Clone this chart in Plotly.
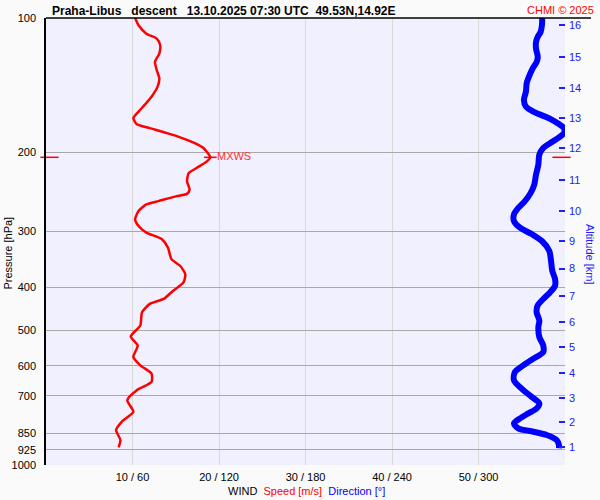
import plotly.graph_objects as go

# ---------------- data ----------------
# wind speed profile (pressure hPa, speed m/s)
p_speed = [100, 103.8, 108.4, 111.2, 115.0, 120.1, 125.3, 130.7, 136.5, 142.4, 150.0,
           156.5, 162.0, 167.6, 172.9, 176.4, 181.0, 185.0, 189.9, 195.4, 205.0, 209.3,
           216.6, 222.3, 232.0, 242.0, 247.5, 250.4, 256.9, 261.3, 270.4, 282.2, 292.0,
           302.2, 312.6, 326.4, 346.4, 358.5, 374.1, 390.6, 407.6, 425.3, 436.3, 455.5,
           487.7, 516.0, 540.4, 573.8, 598.8, 624.9, 652.4, 680.8, 716.6, 760.9, 801.0,
           835.8, 879.7, 913.3]
speed = [10.3, 10.7, 11.6, 12.8, 13.2, 13.1, 12.6, 12.8, 13.1, 12.9, 12.2,
         11.4, 10.7, 10.1, 10.5, 12.0, 14.0, 15.5, 17.0, 18.2, 19.0, 18.6,
         17.4, 16.5, 16.3, 16.6, 16.3, 15.1, 13.0, 11.6, 10.7, 10.3, 10.7,
         11.6, 13.4, 14.1, 14.5, 15.5, 16.1, 15.9, 14.7, 13.6, 12.0, 11.1,
         10.9, 9.8, 10.6, 10.1, 10.9, 12.2, 12.2, 10.5, 9.4, 10.1, 8.75,
         8.1, 8.6, 8.4]

# wind direction profile (pressure hPa, direction deg)
p_dir = [100, 103.8, 107.4, 110.2, 113.1, 117.1, 122.2, 125.3, 129.7, 135.3, 140.0,
         146.2, 152.5, 157.8, 162.0, 166.2, 170.5, 176.4, 181.0, 185.7, 190.6, 195.4,
         202.2, 212.9, 224.1, 235.9, 246.2, 256.9, 266.0, 275.0, 284.7, 294.6, 304.8,
         315.5, 332.0, 349.5, 367.9, 383.9, 397.2, 411.2, 425.3, 440.1, 455.5, 475.4,
         492.0, 517.8, 540.4, 559.3, 578.6, 598.8, 619.8, 646.8, 674.9, 704.5, 728.9,
         747.8, 767.2, 787.1, 807.5, 828.5, 843.1, 857.5, 879.7, 902.6, 918.0]
direction = [344.2, 344.0, 343.1, 341.1, 339.9, 339.9, 341.1, 340.4, 337.6, 335.0, 333.4,
             332.9, 331.5, 332.9, 338.0, 346.1, 353.0, 359.3, 359.3, 355.1, 349.6, 344.9,
             342.2, 341.5, 339.9, 338.7, 336.2, 332.2, 327.6, 324.6, 324.6, 328.8, 337.1,
             344.0, 349.1, 350.3, 351.2, 353.1, 353.1, 349.6, 344.9, 341.0, 340.3, 342.2,
             341.5, 342.2, 344.9, 344.9, 338.0, 331.1, 325.3, 324.6, 329.9, 336.9, 342.2,
             340.3, 334.5, 328.8, 324.6, 327.6, 338.0, 347.3, 354.2, 355.8, 355.8]

# maximum wind
mxws_p = 205.0
mxws_speed = 19.0

# axes
speed_range = [0, 60]
dir_range = [0, 360]
x_ticks = [10, 20, 30, 40, 50, 60]
x_ticktext = ["10 / 60", "20 / 120", "30 / 180", "40 / 240", "50 / 300", ""]
p_ticks = [100, 200, 300, 400, 500, 600, 700, 850, 925, 1000]
p_ticktext = ["100", "200", "300", "400", "500", "600", "700", "850", "925", "1000"]
alt_km = ["1", "2", "3", "4", "5", "6", "7", "8", "9", "10", "11", "12", "13", "14", "15", "16"]
alt_p = [911.8, 802.2, 708.3, 623.8, 546.0, 479.6, 418.2, 363.6, 315.4, 270.4,
         230.7, 195.7, 167.6, 143.2, 122.2, 103.8]

title_text = "Praha-Libus\u00a0\u00a0\u00a0descent\u00a0\u00a0\u00a013.10.2025 07:30 UTC\u00a0\u00a049.53N,14.92E"

FONT = "Liberation Sans, Arial, sans-serif"
P_RANGE = [3.0003, 2.0]  # log10 of 1000 .. 100 hPa (reversed)

fig = go.Figure()

fig.add_trace(go.Scatter(
    x=direction, y=p_dir, xaxis="x2", yaxis="y2", mode="lines",
    line=dict(color="#0000ff", width=6, shape="spline", smoothing=0.8), hoverinfo="skip"))

fig.add_trace(go.Scatter(
    x=speed, y=p_speed, mode="lines",
    line=dict(color="#ff0000", width=2.5, shape="spline", smoothing=0.6), hoverinfo="skip"))

# MXWS marker and label
fig.add_trace(go.Scatter(
    x=[mxws_speed], y=[mxws_p], mode="markers+text",
    marker=dict(symbol="line-ew", size=9, line=dict(color="#ff0000", width=1.5)),
    text=["MXWS"], textposition="middle right",
    textfont=dict(color="#ff3030", size=11, family=FONT),
    cliponaxis=False, hoverinfo="skip"))

# MXWS level dashes at the frame edges
fig.add_trace(go.Scatter(
    x=[speed_range[0] + 0.4, speed_range[1] - 0.4], y=[mxws_p, mxws_p], mode="markers",
    marker=dict(symbol="line-ew", size=13, line=dict(color="#ff0000", width=1.5)),
    cliponaxis=False, hoverinfo="skip"))

fig.update_layout(
    width=600, height=500,
    margin=dict(l=46, r=35, t=15, b=35),
    paper_bgcolor="#fafafa",
    plot_bgcolor="#f0f0ff",
    showlegend=False,
    font=dict(family=FONT, size=11, color="black"),
    xaxis=dict(range=speed_range, tickvals=x_ticks, ticktext=x_ticktext,
               showgrid=True, gridcolor="#d8d8d8", gridwidth=1, zeroline=False,
               showline=False, ticks="", ticklabelstandoff=4,
               tickfont=dict(size=11, color="black")),
    xaxis2=dict(range=dir_range, overlaying="x", visible=False),
    yaxis=dict(type="log", range=P_RANGE, tickvals=p_ticks, ticktext=p_ticktext,
               showgrid=True, gridcolor="#a8a8a8", gridwidth=1, zeroline=False,
               showline=True, linecolor="black", linewidth=1.5, ticks="",
               ticklabelstandoff=6, tickfont=dict(size=11, color="black")),
    yaxis2=dict(type="log", range=P_RANGE, overlaying="y", side="right",
                tickvals=alt_p, ticktext=alt_km, showgrid=False, zeroline=False,
                showline=False, ticks="inside", ticklen=6, tickwidth=1.5,
                tickcolor="#2020ff", ticklabelstandoff=3,
                tickfont=dict(size=11, color="#2020ff")),
    shapes=[dict(type="line", xref="paper", yref="paper", x0=0, x1=1.05, y0=1, y1=1,
                 line=dict(color="black", width=1.5))],
    annotations=[
        dict(text="<b>" + title_text + "</b>", xref="paper", yref="paper",
             x=0.0077, y=1.0156, xanchor="left", yanchor="middle", showarrow=False,
             font=dict(size=12, color="black", family=FONT)),
        dict(text="CHMI \u00a9 2025", xref="paper", yref="paper",
             x=1.0592, y=1.0189, xanchor="right", yanchor="middle", showarrow=False,
             font=dict(size=11, color="#ff0000", family=FONT)),
        dict(text="WIND\u00a0\u00a0<span style='color:#ff0000'>Speed [m/s]</span>\u00a0\u00a0"
                  "<span style='color:#0000ff'>Direction [\u00b0]</span>",
             xref="paper", yref="paper", x=0.502, y=-0.0578, xanchor="center",
             yanchor="middle", showarrow=False, font=dict(size=11, color="black", family=FONT)),
        dict(text="Pressure [hPa]", xref="paper", yref="paper", x=-0.0732, y=0.473,
             xanchor="center", yanchor="middle", textangle=-90, showarrow=False,
             font=dict(size=11, color="black", family=FONT)),
        dict(text="Altitude [km]", xref="paper", yref="paper", x=1.0482, y=0.472,
             xanchor="center", yanchor="middle", textangle=90, showarrow=False,
             font=dict(size=11, color="#2020ff", family=FONT)),
    ],
)

fig.write_html(
    "out.html",
    config={"displayModeBar": False},
    post_script="document.body.style.margin='0';document.body.style.padding='0';"
                "document.documentElement.style.overflow='hidden';",
)
